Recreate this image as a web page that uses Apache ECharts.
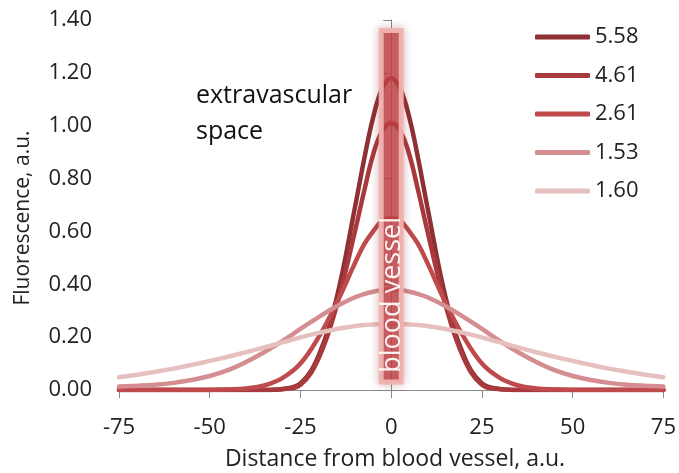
<!DOCTYPE html>
<html>
<head>
<meta charset="utf-8">
<script src="https://cdn.jsdelivr.net/npm/echarts@6/dist/echarts.min.js"></script>
<style>
  html, body { margin: 0; padding: 0; background: #fff; }
  #chart { width: 679px; height: 473px; }
</style>
</head>
<body>
<div id="chart"></div>
<script>
// ---- data ----
const xTicks = [-75, -50, -25, 0, 25, 50, 75];
const yTicks = [0, 0.2, 0.4, 0.6, 0.8, 1.0, 1.2, 1.4];
const seriesNames = ['5.58', '4.61', '2.61', '1.53', '1.60'];
const xs = [-75, -70, -65, -60, -55, -50, -45, -40, -35, -30, -25, -20, -15, -10, -7.5, -5, -2.5, 0, 2.5, 5, 7.5, 10, 15, 20, 25, 30, 35, 40, 45, 50, 55, 60, 65, 70, 75];
const y558 = [0, 0, 0, 0, 0, 0, 0, 0, 0, 0.004, 0.025, 0.13, 0.35, 0.69, 0.87, 1.03, 1.14, 1.18, 1.14, 1.03, 0.87, 0.69, 0.35, 0.13, 0.025, 0.004, 0, 0, 0, 0, 0, 0, 0, 0, 0];
const y461 = [0, 0, 0, 0, 0, 0, 0, 0, 0, 0.003, 0.02, 0.12, 0.32, 0.60, 0.75, 0.89, 0.98, 1.01, 0.98, 0.89, 0.75, 0.60, 0.32, 0.12, 0.02, 0.003, 0, 0, 0, 0, 0, 0, 0, 0, 0];
const y261 = [0, 0, 0, 0, 0, 0, 0.002, 0.006, 0.017, 0.045, 0.10, 0.20, 0.33, 0.48, 0.55, 0.60, 0.64, 0.65, 0.64, 0.60, 0.55, 0.48, 0.33, 0.20, 0.10, 0.045, 0.017, 0.006, 0.002, 0, 0, 0, 0, 0, 0];
const y153 = [0.013, 0.016, 0.02, 0.027, 0.038, 0.053, 0.075, 0.106, 0.143, 0.185, 0.231, 0.276, 0.317, 0.351, 0.363, 0.372, 0.378, 0.38, 0.378, 0.372, 0.363, 0.351, 0.317, 0.276, 0.231, 0.185, 0.143, 0.106, 0.075, 0.053, 0.038, 0.027, 0.02, 0.016, 0.013];
const y160 = [0.048, 0.058, 0.069, 0.081, 0.095, 0.110, 0.126, 0.143, 0.161, 0.180, 0.199, 0.216, 0.231, 0.242, 0.246, 0.248, 0.25, 0.25, 0.25, 0.248, 0.246, 0.242, 0.231, 0.216, 0.199, 0.180, 0.161, 0.143, 0.126, 0.110, 0.095, 0.081, 0.069, 0.058, 0.048];
const vesselX = [-2.75, 2.75];
const vesselY = [0.03, 1.36];
const vesselLabelY = 0.36;
const vesselLabel = 'blood vessel';
const spaceLabel = ['extravascular', 'space'];
const xTitle = 'Distance from blood vessel, a.u.';
const yTitle = 'Fluorescence, a.u.';

// ---- styles ----
const colors = ['#8e3034', '#a8393c', '#bf4a4c', '#d48d90', '#e6c0bf'];
const FONT = '"Open Sans", "Noto Sans", sans-serif';
const seriesValues = [y558, y461, y261, y153, y160];

const lineSeries = seriesNames.map((name, i) => ({
  name: name,
  type: 'line',
  smooth: 0.4,
  showSymbol: false,
  symbol: 'none',
  lineStyle: { width: 4.5, color: colors[i], cap: 'round' },
  itemStyle: { color: colors[i] },
  z: 2,
  data: xs.map((x, k) => [x, seriesValues[i][k]])
}));

const chart = echarts.init(document.getElementById('chart'), null, { renderer: 'canvas' });
chart.setOption({
  animation: false,
  backgroundColor: '#ffffff',
  textStyle: { fontFamily: FONT },
  grid: { left: 119, right: 14, top: 20, bottom: 83, containLabel: false },
  legend: {
    data: seriesNames,
    orient: 'vertical',
    left: 535,
    top: 25,
    padding: 0,
    icon: 'roundRect',
    itemWidth: 55,
    itemHeight: 5,
    itemGap: 14.5,
    textStyle: { fontSize: 22, lineHeight: 24, color: '#222', fontFamily: FONT }
  },
  xAxis: {
    type: 'value',
    min: xTicks[0],
    max: xTicks[xTicks.length - 1],
    interval: xTicks[1] - xTicks[0],
    axisLine: { show: true, lineStyle: { color: '#898989', width: 1 } },
    axisTick: { show: true, length: 8, lineStyle: { color: '#898989' } },
    splitLine: { show: false },
    axisLabel: { fontSize: 22, color: '#222', margin: 27, fontFamily: FONT }
  },
  yAxis: {
    type: 'value',
    min: yTicks[0],
    max: yTicks[yTicks.length - 1],
    interval: 0.2,
    axisLine: { show: true, lineStyle: { color: '#898989', width: 1 } },
    axisTick: { show: true, length: 8, lineStyle: { color: '#898989' } },
    splitLine: { show: false },
    axisLabel: { fontSize: 22, color: '#222', margin: 27, fontFamily: FONT, formatter: v => v.toFixed(2) }
  },
  series: lineSeries.concat([{
    type: 'custom',
    z: 5,
    silent: true,
    encode: { x: [0, 2], y: [1, 3] },
    data: [[vesselX[0], vesselY[0], vesselX[1], vesselY[1]]],
    renderItem: function (params, api) {
      const p0 = api.coord([api.value(0), api.value(3)]);
      const p1 = api.coord([api.value(2), api.value(1)]);
      const cx = (p0[0] + p1[0]) / 2;
      const ly = api.coord([0, vesselLabelY])[1];
      return {
        type: 'group',
        children: [
          {
            type: 'rect',
            shape: { x: p0[0], y: p0[1], width: p1[0] - p0[0], height: p1[1] - p0[1] },
            style: {
              fill: 'rgba(195, 64, 68, 0.78)',
              stroke: 'rgba(240, 178, 176, 0.95)',
              lineWidth: 5,
              shadowBlur: 10,
              shadowColor: 'rgba(150, 60, 60, 0.35)'
            }
          },
          {
            type: 'text',
            x: cx + 1,
            y: ly,
            rotation: Math.PI / 2,
            style: {
              text: vesselLabel,
              fill: 'rgba(255,255,255,0.92)',
              font: '27px ' + FONT,
              align: 'center',
              verticalAlign: 'middle'
            }
          }
        ]
      };
    }
  }]),
  graphic: [
    { type: 'text', left: 196, top: 83, style: { text: spaceLabel[0], font: '25px ' + FONT, fill: '#111' } },
    { type: 'text', left: 196, top: 119, style: { text: spaceLabel[1], font: '25px ' + FONT, fill: '#111' } },
    { type: 'text', x: 23, y: 218, rotation: Math.PI / 2, style: { text: yTitle, font: '21px ' + FONT, fill: '#222', align: 'center', verticalAlign: 'middle' } },
    { type: 'text', x: 395, y: 459, style: { text: xTitle, font: '23px ' + FONT, fill: '#222', align: 'center', verticalAlign: 'middle' } }
  ]
});
</script>
</body>
</html>
